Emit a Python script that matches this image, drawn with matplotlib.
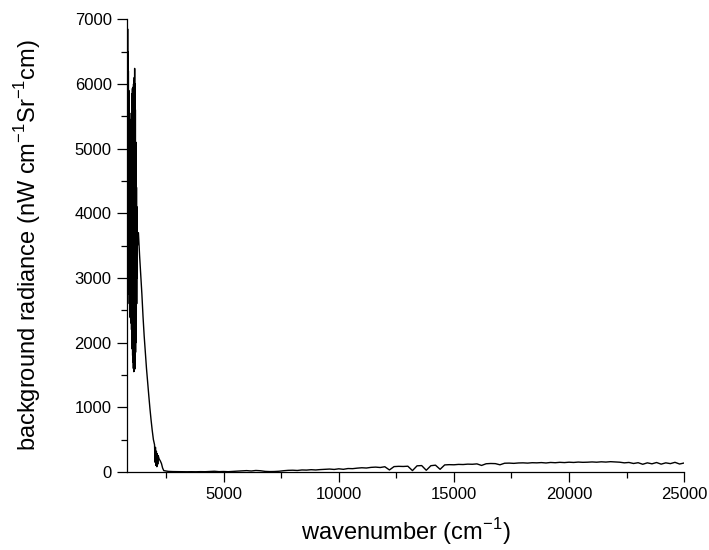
import numpy as np
import matplotlib
matplotlib.use("Agg")
import matplotlib.pyplot as plt

plt.rcParams["font.family"] = ["Liberation Sans", "DejaVu Sans"]
plt.rcParams["mathtext.fontset"] = "custom"
plt.rcParams["mathtext.rm"] = "Liberation Sans"

# oscillating part near the low-wavenumber end (cm-1, nW cm-1 Sr-1 cm)
osc_x = [800, 808, 816, 824, 832, 840, 848, 856, 864, 872, 880, 888, 896, 904,
         912, 920, 928, 936, 944, 952, 960, 968, 976, 984, 992, 1000, 1008, 1016,
         1024, 1032, 1040, 1048, 1056, 1064, 1072, 1080, 1088, 1096, 1104, 1112,
         1120, 1128, 1136, 1144, 1152, 1160, 1168, 1176, 1184, 1192, 1200, 1208,
         1216, 1224, 1232, 1240, 1248, 1256]
osc_y = [6950, 4100, 6900, 3600, 6850, 3300, 6500, 3100, 6200, 2900, 5900, 2750,
         5600, 2600, 5400, 2500, 5300, 2400, 5250, 2380, 5300, 2350, 5450, 2300,
         5550, 2200, 5700, 2050, 5850, 1900, 5930, 1800, 5900, 1700, 5950, 1600,
         6000, 1550, 6050, 1560, 6100, 1580, 6240, 1600, 6000, 1700, 5600, 1850,
         5100, 2000, 4700, 2300, 4400, 2600, 4100, 3000, 3900, 3500]

# smooth decay after the oscillations
decay_x = [1300, 1350, 1400, 1450, 1500, 1550, 1600, 1650, 1700, 1750, 1800,
           1850, 1900, 1950, 2000, 2020, 2040, 2060, 2080, 2100, 2120, 2140,
           2160, 2200, 2250, 2300, 2350]
decay_y = [3700, 3350, 3050, 2750, 2400, 2100, 1850, 1600, 1380, 1180, 980,
           800, 640, 500, 420, 150, 380, 100, 320, 80, 280, 120,
           250, 200, 170, 130, 60]

# long flat tail
tail_x = list(range(2400, 25001, 200))
tail_y = [20, 8, 5, 4, 3, 2, 3, 2, 4, 3, 6, 10, 4, 6, 3, 8, 12, 16, 20, 14,
          22, 18, 8, 5, 6, 10, 18, 24, 26, 22, 30, 28, 34, 30, 36, 40, 44, 38,
          48, 40, 52, 50, 58, 64, 60, 70, 74, 68, 80, 30, 82, 86, 84, 88, 20,
          94, 98, 25, 96, 104, 40, 108, 112, 110, 116, 114, 120, 118, 124, 100,
          126, 130, 128, 110, 134, 136, 132, 138, 140, 136, 142, 140, 144, 138,
          146, 142, 148, 144, 150, 146, 152, 148, 150, 154, 150, 156, 152, 158,
          154, 150, 140, 146, 130, 142, 118, 140, 125, 145, 120, 140, 128, 148,
          122, 138]

wavenumber = np.array(osc_x + decay_x + tail_x)
radiance = np.array(osc_y + decay_y + tail_y)

fig = plt.figure(figsize=(7.09, 5.5), dpi=100)
ax = fig.add_axes([0.179, 0.142, 0.786, 0.823])
ax.plot(wavenumber, radiance, color="black", linewidth=1.0)

ax.set_xlim(800, 25000)
ax.set_ylim(0, 7000)
ax.set_xticks([5000, 10000, 15000, 20000, 25000])
ax.set_xticks(np.arange(2500, 25001, 5000), minor=True)
ax.set_yticks(np.arange(0, 7001, 1000))
ax.set_yticks(np.arange(500, 7000, 1000), minor=True)

for s in ["top", "right"]:
    ax.spines[s].set_visible(False)
for s in ["left", "bottom"]:
    ax.spines[s].set_linewidth(0.9)

ax.tick_params(which="major", direction="out", length=7, width=0.9,
               labelsize=12, pad=4)
ax.tick_params(which="minor", direction="out", length=4, width=0.9)

ax.set_xlabel(r"wavenumber (cm$^{\mathregular{-1}}$)", fontsize=17)
ax.set_ylabel(r"background radiance (nW cm$^{\mathregular{-1}}$Sr$^{\mathregular{-1}}$cm)",
              fontsize=17)
ax.xaxis.set_label_coords(0.5, -0.098)
ax.yaxis.set_label_coords(-0.151, 0.5)

fig.savefig("out.png", dpi=100)
